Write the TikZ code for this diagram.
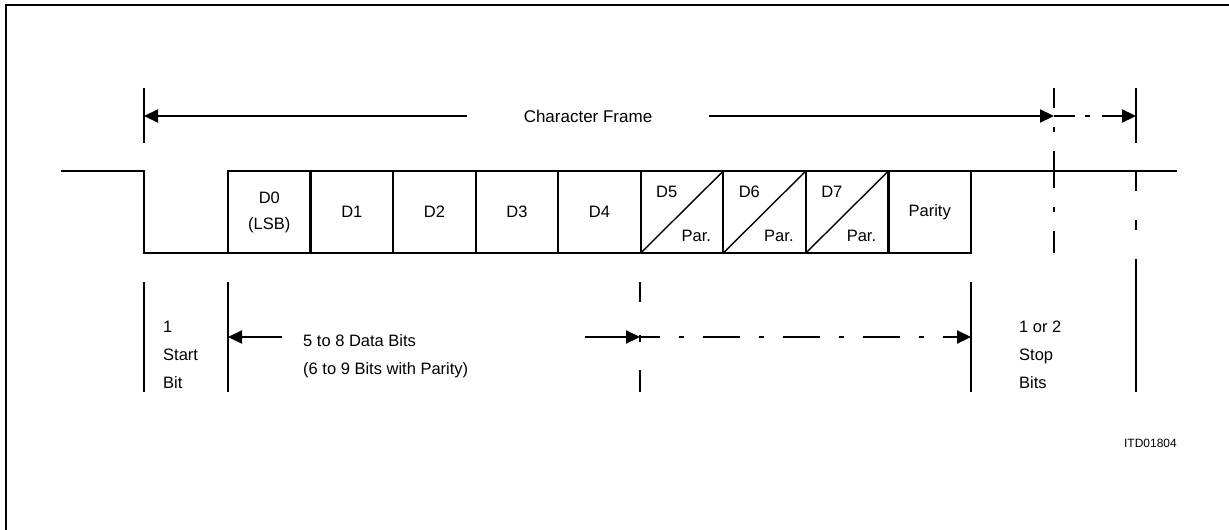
\documentclass[tikz,border=0pt]{standalone}
\usepackage{fontspec}
\setmainfont{Liberation Sans}
\usetikzlibrary{arrows.meta,positioning,calc}
\tikzset{>={Triangle[length=14pt,width=13pt]},sig/.style={line width=2.2pt},bitbox/.style={draw,line width=2.2pt,outer sep=0pt,minimum width=82.6pt,minimum height=82pt,inner sep=0pt,anchor=south west,align=center,font=\fontsize{16.5}{26}\selectfont},dim/.style={->,line width=2.2pt},dd/.style={line width=2.2pt,dash pattern=on 37pt off 19pt on 5pt off 19pt,dash phase=17pt},lbl/.style={inner sep=0pt,align=left,anchor=west,font=\fontsize{16.5}{28}\selectfont},slash/.style={line width=1.4pt}}

\begin{document}
\begin{tikzpicture}[x=1pt,y=-1pt]
\useasboundingbox (0,0) rectangle (1229,530);
\draw[line width=1.1pt] (6,5) rectangle (1260,560);
% bit cells
\foreach \i/\t in {0/{D0\\(LSB)},1/D1,2/D2,3/D3,4/D4,5/{},6/{},7/{},8/Parity}{\node[bitbox] (b\i) at ({228+82.55*\i},253) {\t};}
\foreach \i/\n in {5/5,6/6,7/7}{
\draw[slash] (b\i.south west) -- (b\i.north east);
\node[font=\fontsize{16.5}{20}\selectfont] (d\i) at ($(b\i.north west)+(26,21)$) {D\n};
\node[font=\fontsize{16.5}{20}\selectfont] (p\i) at ($(b\i.south east)+(-27,-17)$) {Par.};}
% signal line
\coordinate (idle) at (61,171);
\coordinate (fall) at (144,171);
\coordinate (low) at (144,253);
\coordinate (stopend) at (1177,171);
\draw[sig] (idle) -- (fall) -- (low) -- (b0.south west);
\draw[sig] (b8.north east) -- (stopend);
% character frame
\coordinate (cfL) at (144,116);
\coordinate (cfR) at (1054,116);
\coordinate (cfE) at (1136,116);
\node[minimum width=242pt,inner sep=0pt,font=\fontsize{17}{20}\selectfont] (cf) at (588,116) {Character Frame};
\draw[sig] (144,88) -- (144,143);
\draw[sig] (1136,88) -- (1136,143);
\draw[dim] (cf.west) -- (cfL);
\draw[dim] (cf.east) -- (cfR);
\draw[dim,dash pattern=on 21pt off 10pt on 5pt off 12pt on 60pt] (cfR) -- (cfE);
\draw[dd] (1054,88) -- (1054,253);
\draw[sig,dash pattern=on 20pt off 29pt on 10pt off 29pt on 60pt] (1136,171) -- (1136,285);
% bottom ticks
\draw[sig] (144,282) -- (144,392);
\draw[sig] (228,282) -- (228,392);
\draw[sig,dash pattern=on 20pt off 33pt on 7pt off 28pt on 30pt] (640,282) -- (640,392);
\draw[sig] (971,282) -- (971,392);
\draw[sig] (1136,282) -- (1136,392);
% labels
\node[lbl] (startbit) at (163,355) {1\\Start\\Bit};
\node[lbl] (databits) at (303,356) {5 to 8 Data Bits\\(6 to 9 Bits with Parity)};
\node[lbl] (stopbits) at (1019,355) {1 or 2\\Stop\\Bits};
\node[inner sep=0pt,anchor=east,font=\fontsize{12}{14}\selectfont] (ref) at (1177,443) {ITD01804};
\coordinate (dL) at (228,337);
\coordinate (dLs) at (282,337);
\coordinate (dM) at (640,337);
\coordinate (dMs) at (585,337);
\coordinate (dR) at (971,337);
\draw[dim] (dLs) -- (dL);
\draw[dim] (dMs) -- (dM);
\draw[dim,dd] (dM) -- (dR);
\end{tikzpicture}
\end{document}
